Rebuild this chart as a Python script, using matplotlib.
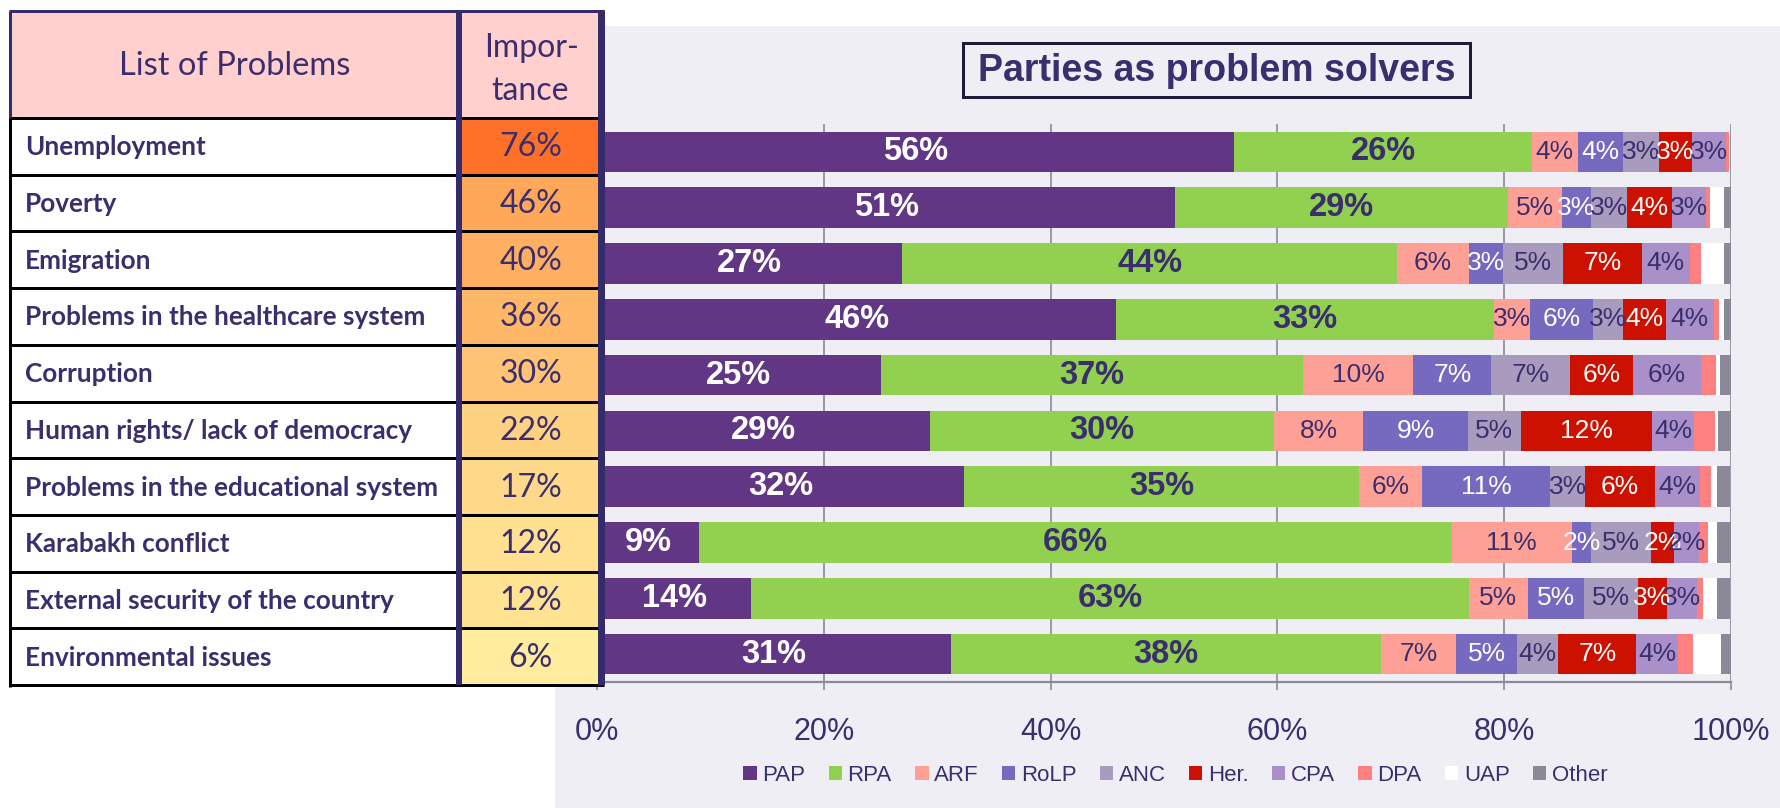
import matplotlib
matplotlib.use('Agg')
import matplotlib.pyplot as plt
from matplotlib.patches import Rectangle, Patch
import numpy as np

# ---------------- data ----------------
problems = ["Unemployment", "Poverty", "Emigration",
            "Problems in the healthcare system", "Corruption",
            "Human rights/ lack of democracy",
            "Problems in the educational system", "Karabakh conflict",
            "External security of the country", "Environmental issues"]
importance = [76, 46, 40, 36, 30, 22, 17, 12, 12, 6]
importance_colors = ["#FF7128", "#FFA85A", "#FFAF62", "#FFB868", "#FFC375",
                     "#FFD282", "#FFD98A", "#FFE191", "#FFE393", "#FFEC9C"]

parties = ["PAP", "RPA", "ARF", "RoLP", "ANC", "Her.", "CPA", "DPA", "UAP", "Other"]
party_colors = ["#613785", "#92D050", "#FFA097", "#7669C0", "#A99BBD",
                "#CC1100", "#A990C8", "#FF8080", "#FFFFFF", "#8B8898"]
label_colors = ["white", "#3A2E6E", "#3A2E6E", "white", "#3A2E6E",
                "white", "#3A2E6E", None, None, None]

PAP   = [56.2, 51.0, 26.9, 45.8, 25.0, 29.4, 32.4, 9.0, 13.6, 31.2]
RPA   = [26.3, 29.4, 43.7, 33.3, 37.3, 30.3, 34.8, 66.4, 63.3, 38.0]
ARF   = [4.0, 4.7, 6.3, 3.2, 9.7, 7.9, 5.6, 10.6, 5.2, 6.6]
RoLP  = [4.0, 2.6, 3.0, 5.6, 6.9, 9.2, 11.3, 1.7, 5.0, 5.4]
ANC   = [3.2, 3.2, 5.3, 2.6, 6.9, 4.7, 3.1, 5.3, 4.7, 3.6]
HER   = [2.9, 3.9, 7.0, 3.8, 5.6, 11.6, 6.1, 2.0, 2.6, 6.9]
CPA   = [3.0, 3.0, 4.2, 4.2, 6.0, 3.7, 4.0, 2.2, 2.6, 3.7]
DPA   = [0.3, 0.4, 1.0, 0.5, 1.3, 1.8, 1.0, 0.8, 0.6, 1.3]
UAP   = [0.0, 1.2, 2.0, 0.4, 0.4, 0.3, 0.5, 0.8, 1.2, 2.5]
OTHER = [0.0, 0.6, 0.6, 0.7, 1.0, 1.2, 1.2, 1.3, 1.2, 1.0]
series = [PAP, RPA, ARF, RoLP, ANC, HER, CPA, DPA, UAP, OTHER]

xticks = [0, 20, 40, 60, 80, 100]
xtick_labels = ["0%", "20%", "40%", "60%", "80%", "100%"]

title = "Parties as problem solvers"
header_col1 = "List of Problems"
header_col2 = ["Impor-", "tance"]

# ---------------- style ----------------
NAVY = "#3A2E6E"
BORDER = "#342C6A"
LAV = "#F0EEF5"
GRID = "#8C8A9A"
W, H = 1780, 808
DPI = 100
PX = 72.0 / DPI  # points per pixel
CHART_FONT = "Liberation Sans"
TABLE_FONT = "Lato"

fig = plt.figure(figsize=(W / DPI, H / DPI), dpi=DPI)
fig.patch.set_facecolor("white")

# background layer (pixel coordinates)
bg = fig.add_axes([0, 0, 1, 1], zorder=0)
bg.set_xlim(0, W); bg.set_ylim(H, 0); bg.axis("off")
bg.add_patch(Rectangle((555, 26), W - 555, H - 26, facecolor=LAV, edgecolor="none"))

# title box
bg.add_patch(Rectangle((963, 43), 507, 54, facecolor="none", edgecolor="#1E1A3C", lw=3 * PX))
bg.text(1216.5, 71, title, ha="center", va="center", fontsize=27, fontweight="bold",
        color=NAVY, family=CHART_FONT)

# ---------------- bar chart ----------------
x0, x100 = 597.2, 1730.5
ytop, ybot = 124, 682
ax = fig.add_axes([x0 / W, (H - ybot) / H, (x100 - x0) / W, (ybot - ytop) / H], zorder=1)
ax.set_facecolor("none")
n = len(problems)
ypos = np.arange(n)
left = np.zeros(n)
for vals, name, col, lc in zip(series, parties, party_colors, label_colors):
    vals = np.array(vals)
    ax.barh(ypos, vals, left=left, height=0.73, color=col, label=name, zorder=3, edgecolor="none")
    if lc is not None:
        big = name in ("PAP", "RPA")
        for i, v in enumerate(vals):
            if v <= 0:
                continue
            ax.text(left[i] + v / 2, ypos[i], f"{int(v + 0.5)}%", ha="center", va="center",
                    color=lc, fontsize=23.5 if big else 19,
                    fontweight="bold" if big else "normal", family=CHART_FONT, zorder=4)
    left = left + vals

ax.set_xlim(0, 100)
ax.set_ylim(n - 0.5, -0.5)
ax.set_yticks([])
ax.set_xticks(xticks)
ax.set_xticklabels(xtick_labels, fontsize=22, color=NAVY, family=CHART_FONT)
ax.tick_params(axis="x", length=6, width=1.2, color=GRID, pad=19, direction="out")
for s in ("top", "right", "left"):
    ax.spines[s].set_visible(False)
ax.spines["bottom"].set_color(GRID)
ax.spines["bottom"].set_linewidth(1.6)
ax.set_axisbelow(True)
ax.xaxis.grid(True, color=GRID, linewidth=1.2, zorder=0)

# legend
handles = [Patch(facecolor=c, edgecolor="none", label=p) for p, c in zip(parties, party_colors)]
leg = fig.legend(handles=handles, loc="center", bbox_to_anchor=(1175.5 / W, (H - 775.5) / H),
                 ncol=len(parties), frameon=False, handlelength=0.6,
                 handleheight=0.6, handletextpad=0.25, columnspacing=1.05, borderpad=0,
                 prop={"family": CHART_FONT, "size": 16})
for t in leg.get_texts():
    t.set_color(NAVY)

# ---------------- table overlay ----------------
tb = fig.add_axes([0, 0, 1, 1], zorder=2)
tb.set_xlim(0, W); tb.set_ylim(H, 0); tb.axis("off")
tb.patch.set_alpha(0)

TL, TC, TR = 10, 459, 600.5
TT, HB = 11, 118
RH = 56.7
TBOT = HB + RH * n

tb.add_patch(Rectangle((TL, TT), TR - TL, HB - TT, facecolor="#FFD0CD", edgecolor="none"))
for i in range(n):
    y = HB + RH * i
    tb.add_patch(Rectangle((TL, y), TC - TL, RH, facecolor="white", edgecolor="none"))
    tb.add_patch(Rectangle((TC, y), TR - TC, RH, facecolor=importance_colors[i], edgecolor="none"))
    tb.text(25, y + RH / 2 + 1, problems[i], ha="left", va="center", fontsize=18.8,
            fontweight="bold", color=NAVY, family=TABLE_FONT)
    tb.text((TC + TR) / 2 + 1, y + RH / 2 + 1, f"{importance[i]}%", ha="center", va="center",
            fontsize=23, color=NAVY, family=TABLE_FONT)

tb.text((TL + TC) / 2, 66, header_col1, ha="center", va="center", fontsize=23.5,
        color=NAVY, family=TABLE_FONT)
tb.text((TC + TR) / 2 + 2, 57, header_col2[0], ha="center", va="baseline", fontsize=23,
        color=NAVY, family=TABLE_FONT)
tb.text((TC + TR) / 2, 100, header_col2[1], ha="center", va="baseline", fontsize=23,
        color=NAVY, family=TABLE_FONT)

# horizontal lines
for i in range(n + 1):
    y = HB + RH * i
    tb.plot([TL - 1, TR + 3], [y, y], color="black", lw=3 * PX, solid_capstyle="butt")
tb.plot([TL - 1, TR + 3], [TT, TT], color=BORDER, lw=3 * PX, solid_capstyle="butt")
# left border
tb.plot([TL, TL], [TT, HB], color=BORDER, lw=3 * PX, solid_capstyle="butt")
tb.plot([TL, TL], [HB, TBOT + 1.5], color="black", lw=3 * PX, solid_capstyle="butt")
# column separators
tb.plot([TC, TC], [TT, TBOT], color=BORDER, lw=6 * PX, solid_capstyle="butt")
tb.plot([TR, TR], [TT - 1, TBOT], color=BORDER, lw=7 * PX, solid_capstyle="butt")

fig.savefig("out.png", dpi=DPI)
